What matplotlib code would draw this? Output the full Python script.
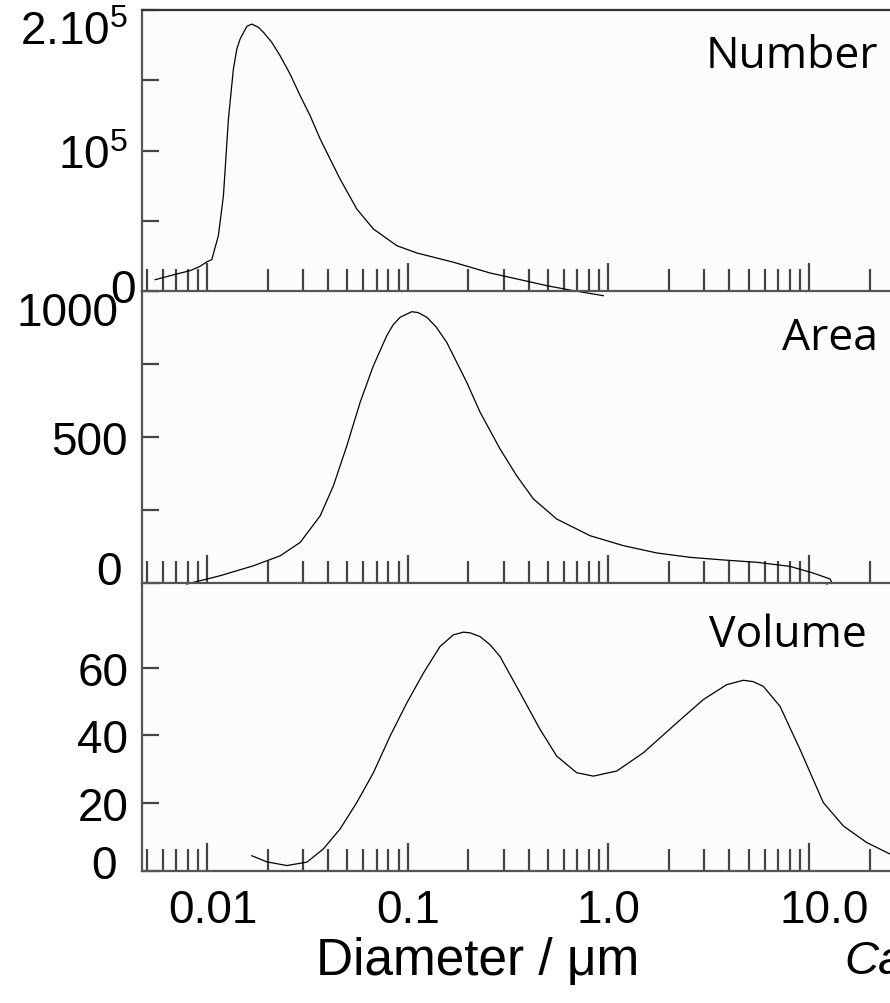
import matplotlib
matplotlib.use("Agg")
import matplotlib.pyplot as plt
from matplotlib.ticker import FixedLocator, LogLocator, NullFormatter
from matplotlib.transforms import ScaledTranslation

plt.rcParams["font.family"] = ["Liberation Sans", "DejaVu Sans"]
plt.rcParams["mathtext.fontset"] = "custom"
plt.rcParams["mathtext.rm"] = "Liberation Sans"

# --- data (diameter in um) ---
number_d = [0.00551, 0.00706, 0.00823, 0.00923, 0.0100, 0.01055, 0.01138, 0.01206,
            0.01277, 0.01352, 0.01406, 0.0146, 0.01577, 0.0167, 0.01801, 0.0191,
            0.02101, 0.0231, 0.02592, 0.0291, 0.03261, 0.0366, 0.04102, 0.0460,
            0.0557, 0.0674, 0.0882, 0.111, 0.169, 0.257, 0.363, 0.493, 0.669, 0.943]
number_n = [8040, 12100, 14450, 17580, 20850, 22280, 39360, 67830,
            122400, 158000, 172200, 179350, 188400, 190000, 187700, 184100,
            177000, 167500, 154400, 139000, 124800, 108200, 93900, 79700,
            58360, 44130, 32240, 27050, 20430, 12810, 8040, 3770, 210, -3350]

area_d = [0.00792, 0.00923, 0.01161, 0.0170, 0.0231, 0.0291, 0.0366, 0.0426,
          0.0497, 0.0579, 0.0674, 0.0786, 0.0845, 0.0916, 0.1047, 0.1125, 0.1244,
          0.1384, 0.1564, 0.1968, 0.2292, 0.2883, 0.3492, 0.4226, 0.5527, 0.810,
          1.187, 1.741, 2.550, 3.737, 5.482, 8.03, 10.49, 12.71, 12.96, 12.24]
area_a = [-3.4, 7.9, 25, 59, 93, 139, 230, 333,
          470, 619, 744, 847, 884, 910, 929, 926, 910,
          877, 824, 687, 585, 459, 367, 288, 219, 162,
          128, 103, 88, 79, 71, 57, 34, 14, 2.4, -3.4]

volume_d = [0.0167, 0.01984, 0.02495, 0.03139, 0.03797, 0.0460, 0.0557, 0.0674,
            0.0816, 0.0989, 0.1196, 0.1449, 0.1687, 0.1892, 0.2043, 0.2292, 0.257,
            0.2883, 0.3627, 0.4562, 0.5527, 0.695, 0.841, 1.100, 1.493, 2.189,
            2.971, 3.885, 4.701, 5.255, 5.914, 7.161, 9.008, 11.77, 14.81, 19.36, 25.3]
volume_v = [4.5, 2.7, 1.6, 2.6, 6.5, 12.4, 20.2, 29.0,
            39.8, 49.6, 58.4, 66.3, 69.7, 70.5, 70.3, 69.2, 66.8,
            63.3, 52.6, 41.8, 33.9, 29.0, 28.0, 29.5, 34.9, 43.7,
            50.6, 55.0, 56.3, 55.9, 54.5, 48.6, 35.9, 20.2, 13.3, 8.4, 5.0]

panel_names = ["Number", "Area", "Volume"]
y_ticks = [[0, 5e4, 1e5, 1.5e5, 2e5], [0, 250, 500, 750, 1000], [0, 20, 40, 60]]
y_labels = [["0", "", r"$\mathregular{10^5}$", "", r"$\mathregular{2.10^5}$"],
            ["0", "", "500", "", "1000"],
            ["0", "20", "40", "60"]]
y_limits = [(0, 2e5), (0, 1000), (0, 85)]
x_ticks = [0.01, 0.1, 1.0, 10.0]
x_labels = ["0.01", "0.1", "1.0", "10.0"]

fig = plt.figure(figsize=(8.9, 10.04), dpi=100)
boxes = [[0.1596, 0.7092, 0.8404, 0.2798],
         [0.1596, 0.4183, 0.8404, 0.2909],
         [0.1596, 0.1315, 0.8404, 0.2868]]
series = [(number_d, number_n), (area_d, area_a), (volume_d, volume_v)]
name_pos = [(0.984, 0.797), (0.984, 0.801), (0.969, 0.781)]
# nudges (inches) of the "0" labels, as placed by hand in the original
zero_shift = [(0.08, 0.06), (-0.06, 0.16), (-0.11, 0.10)]
top_shift = [0.0, -0.10]
xlabel_shift = [0.06, 0.0, 0.0, 0.15]

for i in range(3):
    ax = fig.add_axes(boxes[i])
    ax.set_zorder(3 - i)
    ax.set_facecolor("#fcfcfc")
    d, v = series[i]
    ax.plot(d, v, color="black", lw=0.9, clip_on=False, solid_joinstyle="round")
    ax.set_xscale("log")
    ax.set_xlim(0.00474, 25.3)
    ax.set_ylim(*y_limits[i])

    ax.xaxis.set_major_locator(FixedLocator(x_ticks))
    ax.xaxis.set_minor_locator(LogLocator(base=10, subs=range(2, 10), numticks=20))
    ax.xaxis.set_minor_formatter(NullFormatter())
    ax.tick_params(axis="x", which="major", direction="in", length=20, width=1.6,
                   color="#444444", labelsize=33, pad=12)
    ax.tick_params(axis="x", which="minor", direction="in", length=15.5, width=1.6,
                   color="#444444")
    if i == 2:
        ax.set_xticklabels(x_labels)
        for lab, dx in zip(ax.get_xticklabels(), xlabel_shift):
            lab.set_transform(lab.get_transform() + ScaledTranslation(dx, 0, fig.dpi_scale_trans))
    else:
        ax.set_xticklabels([])

    ax.set_yticks(y_ticks[i])
    ax.set_yticklabels(y_labels[i])
    ax.tick_params(axis="y", direction="in", length=12, width=1.6,
                   color="#444444", labelsize=33, pad=10)
    labels = ax.get_yticklabels()
    zx, zy = zero_shift[i]
    labels[0].set_transform(labels[0].get_transform()
                            + ScaledTranslation(zx, zy, fig.dpi_scale_trans))
    if i < 2:
        labels[-1].set_verticalalignment("top")
        labels[-1].set_transform(labels[-1].get_transform()
                                 + ScaledTranslation(top_shift[i], 0, fig.dpi_scale_trans))

    for side in ["right", "top"]:
        ax.spines[side].set_visible(False)
    for side in ["left", "bottom"]:
        ax.spines[side].set_color("#555555")
        ax.spines[side].set_linewidth(1.6)
    if i == 0:
        ax.spines["top"].set_visible(True)
        ax.spines["top"].set_color("#333333")
        ax.spines["top"].set_linewidth(1.6)

    ax.text(name_pos[i][0], name_pos[i][1], panel_names[i], transform=ax.transAxes,
            ha="right", va="baseline", fontsize=32, family=["Open Sans", "DejaVu Sans"])

fig.text(0.537, 0.042, "Diameter / \u03bcm", ha="center", va="center", fontsize=37)
fig.text(0.949, 0.042, "Calculated", ha="left", va="center", fontsize=34, style="italic")

fig.savefig("out.png", dpi=100)
